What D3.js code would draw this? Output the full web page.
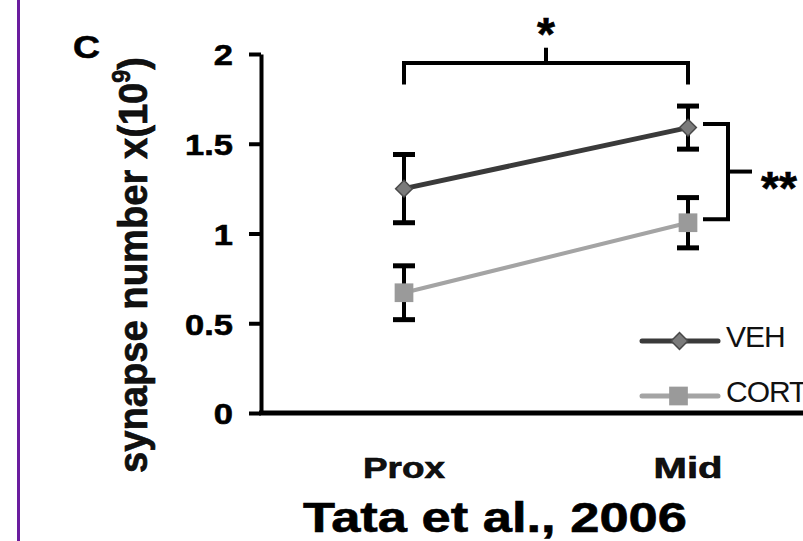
<!DOCTYPE html>
<html>
<head>
<meta charset="utf-8">
<script src="https://cdn.jsdelivr.net/npm/d3@7"></script>
<style>
  html, body { margin: 0; padding: 0; background: #fff; }
  svg { display: block; font-family: Arial, "Liberation Sans", sans-serif; }
  .heavy { stroke: #000; stroke-width: 0.6px; }
</style>
</head>
<body>
<div id="chart"></div>
<script>
// data
var categories = ["Prox", "Mid"];
var vehMean = [1.25, 1.59];
var vehErr = [0.19, 0.12];
var cortMean = [0.67, 1.06];
var cortErr = [0.15, 0.14];
var yTicks = [0, 0.5, 1, 1.5, 2];
var yTickLabels = ["0", "0.5", "1", "1.5", "2"];
var seriesNames = ["VEH", "CORT"];

var W = 803, H = 541;

var svg = d3.select("#chart").append("svg")
    .attr("width", W)
    .attr("height", H);

// purple slide rule on the left
svg.append("line")
    .attr("x1", 18.5).attr("x2", 18.5)
    .attr("y1", 0).attr("y2", H)
    .attr("stroke", "#6a1d9e")
    .attr("stroke-width", 3);

var x = d3.scalePoint().domain(categories).range([404, 688]);
var y = d3.scaleLinear().domain([0, 2]).range([413, 54]);
var axisX = 261;

// y axis
var yAxis = svg.append("g")
    .attr("transform", "translate(" + axisX + ",0)")
    .call(d3.axisLeft(y)
        .tickValues(yTicks)
        .tickFormat(function(d, i) { return yTickLabels[i]; })
        .tickSize(12)
        .tickSizeOuter(0));
yAxis.select(".domain").attr("stroke", "#000").attr("stroke-width", 4);
yAxis.selectAll(".tick line").attr("stroke", "#000").attr("stroke-width", 4);
yAxis.selectAll(".tick text")
    .attr("class", "heavy")
    .attr("x", -28 / 1.15)
    .attr("dy", "0.36em")
    .attr("transform", "scale(1.15,1)")
    .attr("fill", "#000")
    .style("font-size", "30px")
    .style("font-weight", "bold")
    .style("font-family", "Arial, 'Liberation Sans', sans-serif");

// x axis line (no ticks)
svg.append("line")
    .attr("x1", axisX - 2).attr("x2", W)
    .attr("y1", y(0)).attr("y2", y(0))
    .attr("stroke", "#000")
    .attr("stroke-width", 5);

// category labels
var xLabelWidths = [82, 69];
svg.selectAll("text.cat")
    .data(categories)
    .enter().append("text")
    .attr("class", "cat heavy")
    .attr("x", function(d) { return x(d); })
    .attr("y", 478)
    .attr("text-anchor", "middle")
    .attr("textLength", function(d, i) { return xLabelWidths[i]; })
    .attr("lengthAdjust", "spacingAndGlyphs")
    .style("font-size", "30px")
    .style("font-weight", "bold")
    .attr("fill", "#111")
    .text(function(d) { return d; });

// y axis title
var yt = svg.append("text")
    .attr("class", "heavy")
    .attr("transform", "translate(147,265) rotate(-90)")
    .attr("text-anchor", "middle")
    .attr("textLength", 416)
    .attr("lengthAdjust", "spacingAndGlyphs")
    .style("font-size", "41px")
    .style("font-weight", "bold")
    .attr("fill", "#111");
yt.append("tspan").text("synapse number x(10");
yt.append("tspan").attr("dy", -17).style("font-size", "25px").text("9");
yt.append("tspan").attr("dy", 17).text(")");

// panel letter
svg.append("text")
    .attr("class", "heavy")
    .attr("x", 73).attr("y", 58)
    .attr("textLength", 27)
    .attr("lengthAdjust", "spacingAndGlyphs")
    .style("font-size", "31px")
    .style("font-weight", "bold")
    .text("C");

// series
var series = [
    { name: seriesNames[0], mean: vehMean, err: vehErr, line: "#3a3a3a", fill: "#7b7b7b", marker: "diamond" },
    { name: seriesNames[1], mean: cortMean, err: cortErr, line: "#a4a4a4", fill: "#9a9a9a", marker: "square" }
];

var line = d3.line()
    .x(function(d) { return x(d.cat); })
    .y(function(d) { return y(d.v); });

series.forEach(function(s) {
    var pts = categories.map(function(c, i) { return { cat: c, v: s.mean[i], e: s.err[i] }; });
    var g = svg.append("g");

    // error bars
    var eb = g.selectAll("g.err").data(pts).enter().append("g")
        .attr("stroke", "#000").attr("stroke-width", 4);
    eb.append("line")
        .attr("x1", function(d) { return x(d.cat); })
        .attr("x2", function(d) { return x(d.cat); })
        .attr("y1", function(d) { return y(d.v - d.e); })
        .attr("y2", function(d) { return y(d.v + d.e); });
    [-1, 1].forEach(function(sgn) {
        eb.append("line")
            .attr("x1", function(d) { return x(d.cat) - 11; })
            .attr("x2", function(d) { return x(d.cat) + 11; })
            .attr("y1", function(d) { return y(d.v + sgn * d.e); })
            .attr("y2", function(d) { return y(d.v + sgn * d.e); })
            .attr("stroke-width", 5);
    });

    g.append("path")
        .datum(pts)
        .attr("d", line)
        .attr("fill", "none")
        .attr("stroke", s.line)
        .attr("stroke-width", s.marker === "diamond" ? 5 : 4);

    var sym = s.marker === "diamond"
        ? d3.symbol().type(d3.symbolSquare).size(140)
        : d3.symbol().type(d3.symbolSquare).size(350);
    g.selectAll("path.pt").data(pts).enter().append("path")
        .attr("class", "pt")
        .attr("d", sym)
        .attr("transform", function(d) {
            return "translate(" + x(d.cat) + "," + y(d.v) + ")" + (s.marker === "diamond" ? " rotate(45)" : "");
        })
        .attr("fill", s.fill)
        .attr("stroke", s.marker === "diamond" ? "#4a4a4a" : "none")
        .attr("stroke-width", 1.5);

    s.sym = sym;
});

// legend
var legendY = [341, 396];
var leg = svg.selectAll("g.leg").data(series).enter().append("g")
    .attr("class", "leg")
    .attr("transform", function(d, i) { return "translate(0," + legendY[i] + ")"; });
leg.append("line")
    .attr("x1", 642).attr("x2", 718)
    .attr("y1", 0).attr("y2", 0)
    .attr("stroke", function(d) { return d.line; })
    .attr("stroke-width", 5)
    .attr("stroke-linecap", "round");
leg.append("path")
    .attr("d", function(d) { return d.sym(); })
    .attr("transform", function(d) { return "translate(" + (d.marker === "diamond" ? 679.5 : 678.5) + ",0)" + (d.marker === "diamond" ? " rotate(45)" : ""); })
    .attr("fill", function(d) { return d.fill; })
    .attr("stroke", function(d) { return d.marker === "diamond" ? "#4a4a4a" : "none"; })
    .attr("stroke-width", 1.5);
leg.append("text")
    .attr("x", 726)
    .attr("y", 6)
    .style("font-size", "30px")
    .style("letter-spacing", "-1px")
    .attr("fill", "#111")
    .text(function(d) { return d.name; });

// significance: Prox vs Mid (top bracket)
var brY = y(1.95), brLeg = y(1.83), brTop = y(2.035);
var sig = svg.append("g").attr("stroke", "#000").attr("stroke-width", 4).attr("fill", "none");
sig.append("path")
    .attr("d", "M" + x("Prox") + "," + brLeg + "V" + brY + "H" + x("Mid") + "V" + brLeg);
sig.append("line")
    .attr("x1", (x("Prox") + x("Mid")) / 2).attr("x2", (x("Prox") + x("Mid")) / 2)
    .attr("y1", brY).attr("y2", brTop);
svg.append("text")
    .attr("class", "heavy")
    .attr("x", (x("Prox") + x("Mid")) / 2)
    .attr("y", 50)
    .attr("text-anchor", "middle")
    .style("font-size", "46px")
    .style("font-weight", "bold")
    .text("*");

// significance: VEH vs CORT at Mid (right bracket)
var bx0 = x("Mid") + 15, bx1 = x("Mid") + 40;
var bTop = y(vehMean[1] + 0.02), bBot = y(cortMean[1] + 0.02), bMid = (bTop + bBot) / 2;
sig.append("path")
    .attr("d", "M" + bx0 + "," + bTop + "H" + bx1 + "V" + bBot + "H" + bx0);
sig.append("line")
    .attr("x1", bx1).attr("x2", bx1 + 24)
    .attr("y1", bMid).attr("y2", bMid);
svg.append("text")
    .attr("class", "heavy")
    .attr("x", 761)
    .attr("y", bMid + 32)
    .style("font-size", "46px")
    .style("font-weight", "bold")
    .text("**");

// citation
svg.append("text")
    .attr("class", "heavy")
    .attr("x", 303)
    .attr("y", 532)
    .attr("textLength", 384)
    .attr("lengthAdjust", "spacingAndGlyphs")
    .style("font-size", "42px")
    .style("font-weight", "bold")
    .text("Tata et al., 2006");
</script>
</body>
</html>
